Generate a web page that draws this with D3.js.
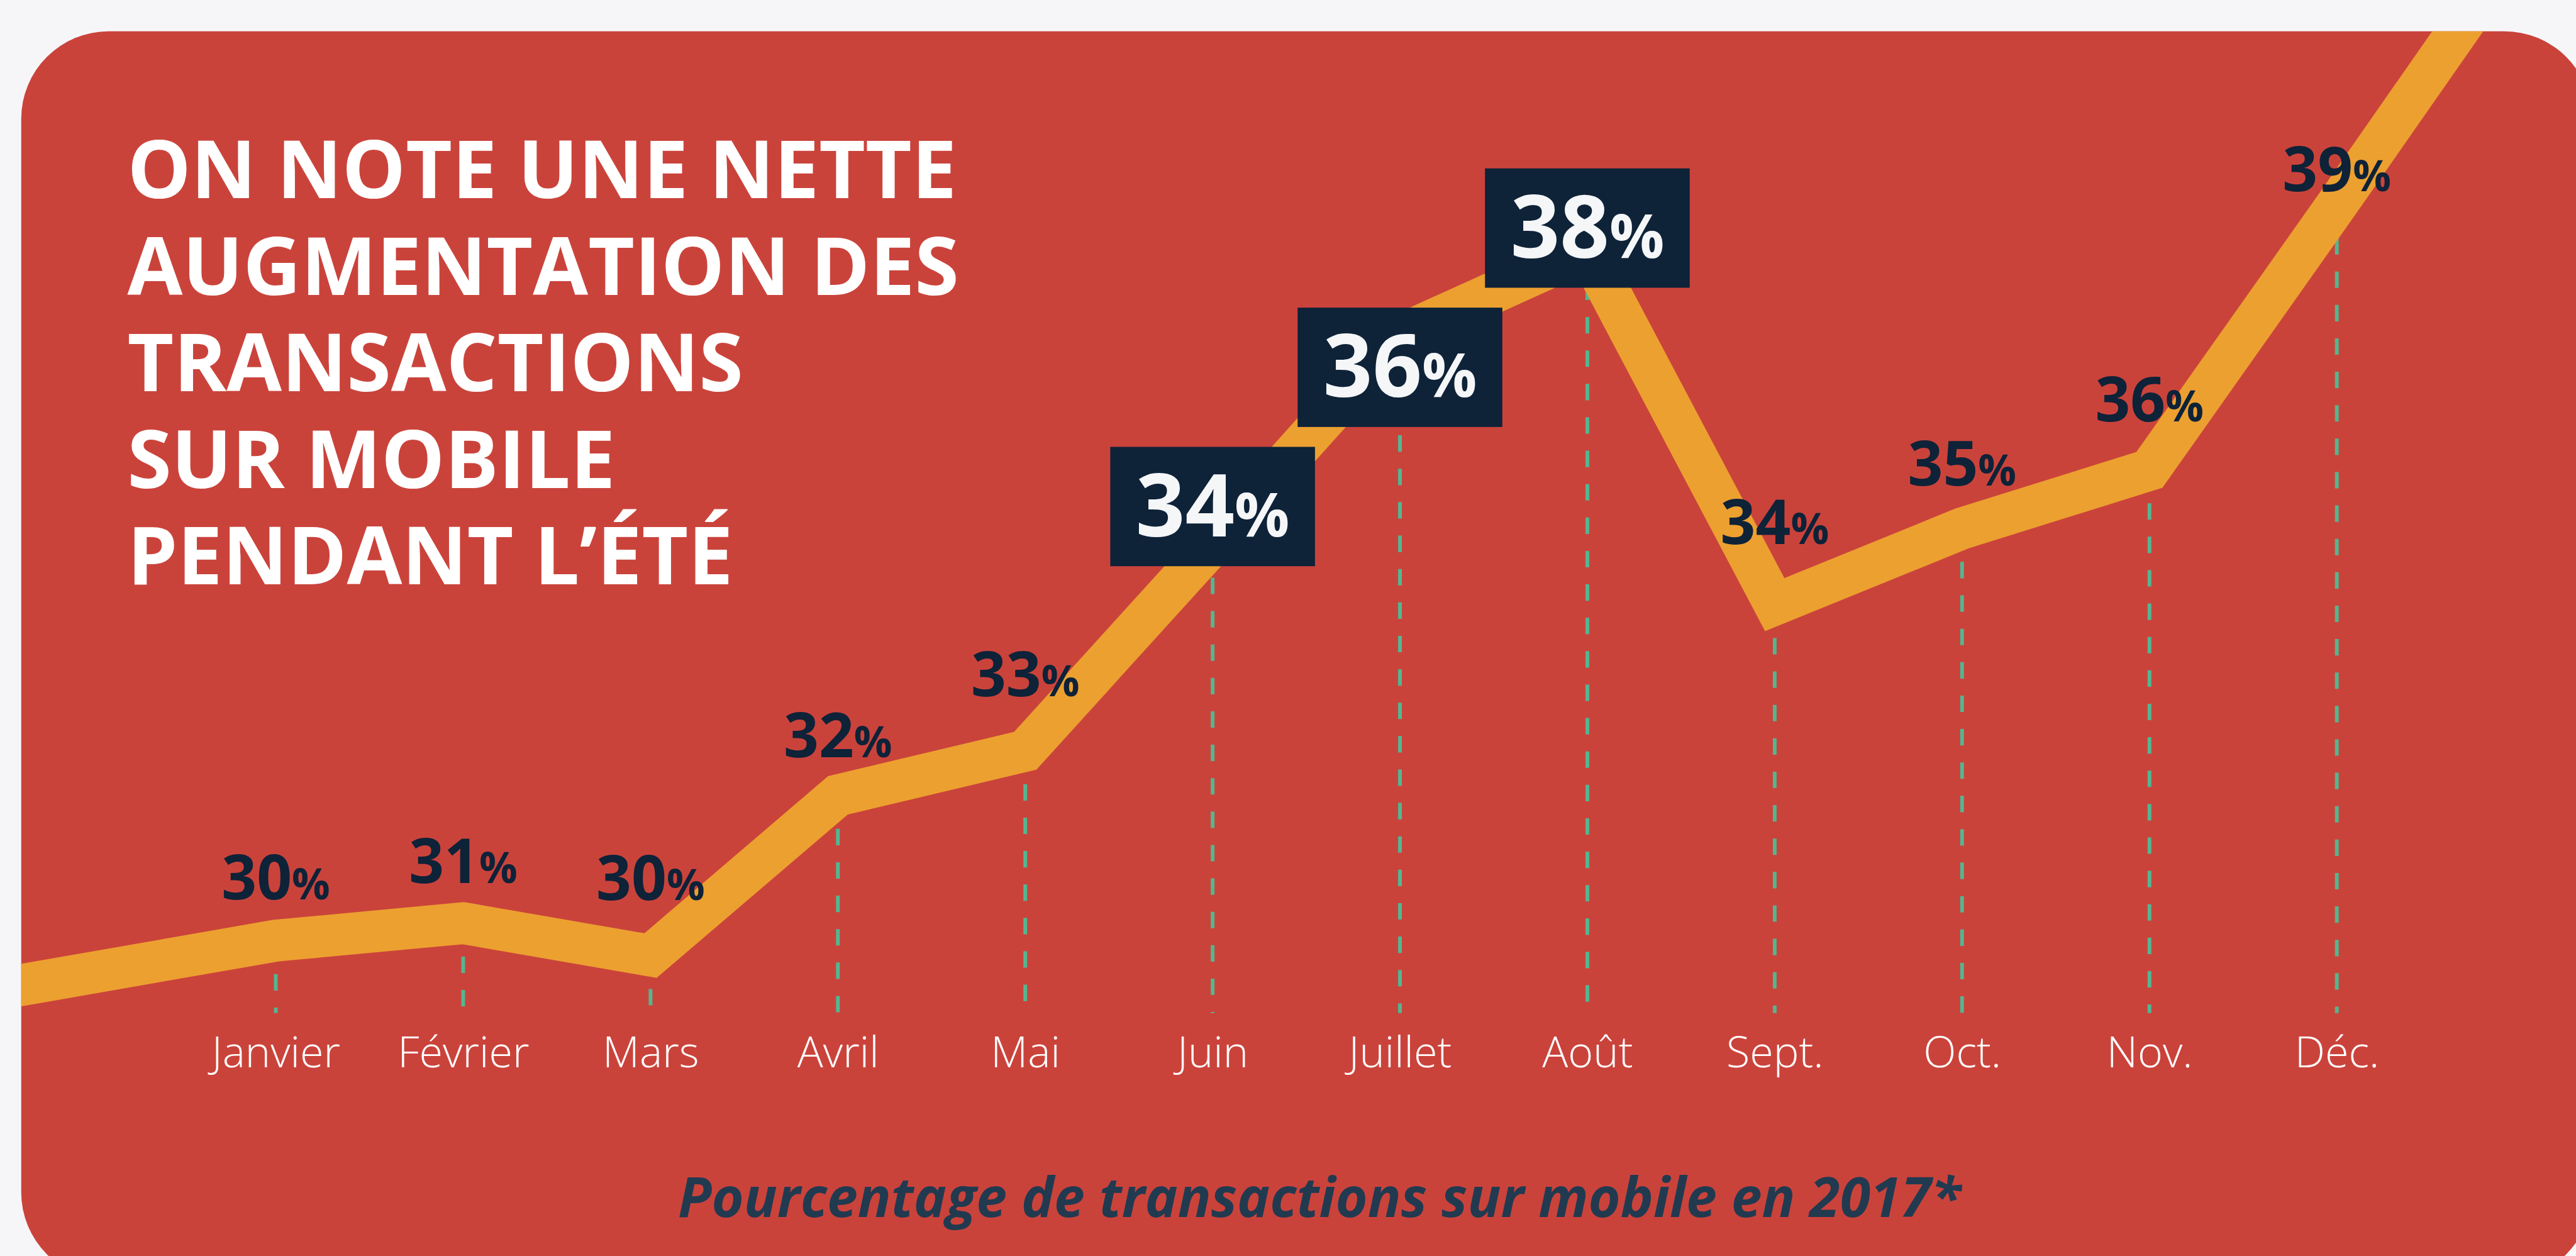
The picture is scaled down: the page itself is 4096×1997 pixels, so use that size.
<!DOCTYPE html>
<html>
<head>
<meta charset="utf-8">
<script src="https://cdn.jsdelivr.net/npm/d3@7"></script>
<style>
  html, body { margin: 0; padding: 0; background: #f6f6f8; overflow: hidden; }
  svg { display: block; }
</style>
</head>
<body>
<svg id="chart"></svg>
<script>
// data
const months = ["Janvier", "Février", "Mars", "Avril", "Mai", "Juin", "Juillet", "Août", "Sept.", "Oct.", "Nov.", "Déc."];
const shares = [30, 31, 30, 32, 33, 34, 36, 38, 34, 35, 36, 39];
// the artwork is not to scale: level of the line at each month, as drawn
const drawnLevel = [30.1, 30.3, 29.93, 31.76, 32.27, 34.63, 37.02, 37.99, 33.94, 34.81, 35.48, 38.51];
// the line comes in from the left edge and leaves through the top
const leadIn = { i: -1.5, level: 29.54 };
const leadOut = { i: 12, level: 41.58 };
const boxedMonths = ["Juin", "Juillet", "Août"];
const titleLines = ["ON NOTE UNE NETTE", "AUGMENTATION DES", "TRANSACTIONS", "SUR MOBILE", "PENDANT L’ÉTÉ"];
const caption = "Pourcentage de transactions sur mobile en 2017*";

// layout, in reference pixels (4857 x 2368), scaled down to the window
const W = 4096, H = 1997;
const k = W / 4857;
const card = { x: 40, y: 59, w: 4847, h: 2354, r: 165 };
// how far each plain label sits above the line
const labelLift = [78, 76, 105, 72, 103, 0, 0, 0, 114, 81, 91, 25];
const dashBottom = 1910;

const svg = d3.select("#chart")
  .attr("width", W)
  .attr("height", H)
  .style("background", "#f6f6f8");

const root = svg.append("g").attr("transform", `scale(${k})`);

// scales
const x = d3.scaleLinear().domain([0, 11]).range([520, 4406]);
const y = d3.scaleLinear().domain([30, 39]).range([1790, 305]);
const yBox = d3.scaleLinear().domain([34, 38]).range([955, 430]);

// card
root.append("clipPath").attr("id", "cardClip")
  .append("rect")
  .attr("x", card.x).attr("y", card.y)
  .attr("width", card.w).attr("height", card.h)
  .attr("rx", card.r).attr("ry", card.r);

root.append("rect")
  .attr("x", card.x).attr("y", card.y)
  .attr("width", card.w).attr("height", card.h)
  .attr("rx", card.r).attr("ry", card.r)
  .attr("fill", "#ca433b");

const plot = root.append("g").attr("clip-path", "url(#cardClip)");

// dashed drop lines
plot.selectAll(".drop")
  .data(months)
  .enter()
  .append("line")
  .attr("class", "drop")
  .attr("x1", (d, i) => x(i))
  .attr("x2", (d, i) => x(i))
  .attr("y1", (d, i) => y(drawnLevel[i]))
  .attr("y2", dashBottom)
  .attr("stroke", "#52b791")
  .attr("stroke-width", 7)
  .attr("stroke-dasharray", "31,32");

// trend line
const pts = [leadIn].concat(drawnLevel.map((v, i) => ({ i: i, level: v })), [leadOut]);
const line = d3.line().x(d => x(d.i)).y(d => y(d.level));

plot.append("path")
  .datum(pts)
  .attr("d", line)
  .attr("fill", "none")
  .attr("stroke", "#eca030")
  .attr("stroke-width", 79)
  .attr("stroke-linejoin", "miter")
  .attr("stroke-miterlimit", 10);

// month labels
const xAxis = d3.axisBottom(d3.scalePoint().domain(months).range([x(0), x(11)]))
  .tickSize(0)
  .tickPadding(0);

const axisG = root.append("g")
  .attr("transform", "translate(0, 2012)")
  .call(xAxis);
axisG.select("path.domain").remove();
axisG.selectAll("text")
  .attr("y", 0)
  .attr("dy", 0)
  .style("font-family", "'Open Sans', sans-serif")
  .style("font-weight", 300)
  .style("font-size", "81px")
  .style("fill", "#ffffff");

// plain value labels
const plain = months.map((m, i) => ({ m, i })).filter(d => !boxedMonths.includes(d.m));

const plainText = root.selectAll(".val")
  .data(plain)
  .enter()
  .append("text")
  .attr("class", "val")
  .attr("x", d => x(d.i))
  .attr("y", d => y(drawnLevel[d.i]) - labelLift[d.i])
  .attr("text-anchor", "middle")
  .style("font-family", "'Open Sans', sans-serif")
  .style("font-weight", 700)
  .style("fill", "#0e2238");
plainText.append("tspan").style("font-size", "116px").text(d => shares[d.i]);
plainText.append("tspan").style("font-size", "80px").text("%");

// boxed value labels
const boxW = 386, boxH = 225;
const boxed = months.map((m, i) => ({ m, i })).filter(d => boxedMonths.includes(d.m));

const boxG = root.selectAll(".box")
  .data(boxed)
  .enter()
  .append("g")
  .attr("class", "box")
  .attr("transform", d => `translate(${x(d.i)}, ${yBox(shares[d.i])})`);

boxG.append("rect")
  .attr("x", -boxW / 2)
  .attr("y", -boxH / 2)
  .attr("width", boxW)
  .attr("height", boxH)
  .attr("fill", "#0e2238");

const boxText = boxG.append("text")
  .attr("x", 0)
  .attr("y", 56)
  .attr("text-anchor", "middle")
  .style("font-family", "'Open Sans', sans-serif")
  .style("font-weight", 700)
  .style("fill", "#f5f6f8");
boxText.append("tspan").style("font-size", "163px").text(d => shares[d.i]);
boxText.append("tspan").style("font-size", "115px").text("%");

// title
root.append("g")
  .selectAll("text")
  .data(titleLines)
  .enter()
  .append("text")
  .attr("x", 240)
  .attr("y", (d, i) => 374 + i * 182)
  .style("font-family", "'Open Sans', sans-serif")
  .style("font-weight", 700)
  .style("font-size", "151px")
  .style("fill", "#ffffff")
  .text(d => d);

// caption
root.append("text")
  .attr("x", 2488)
  .attr("y", 2294)
  .attr("text-anchor", "middle")
  .style("font-family", "'Open Sans', sans-serif")
  .style("font-weight", 700)
  .style("font-style", "italic")
  .style("font-size", "104px")
  .style("fill", "#213a50")
  .text(caption);
</script>
</body>
</html>
